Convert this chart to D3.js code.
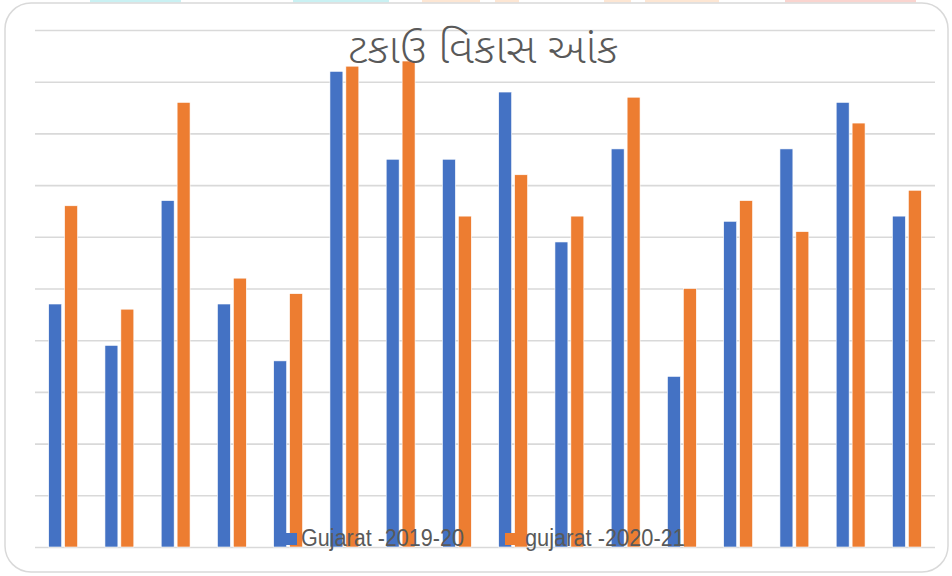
<!DOCTYPE html>
<html>
<head>
<meta charset="utf-8">
<script src="https://cdn.jsdelivr.net/npm/d3@7"></script>
<style>
  html, body { margin: 0; padding: 0; background: #ffffff; }
  svg { display: block; }
</style>
</head>
<body>
<script>
// ---- data ----
const categories = ["1","2","3","4","5","6","7","8","9","10","11","12","13","14","15","16"];
const seriesNames = ["Gujarat -2019-20", "gujarat -2020-21"];
const values2019 = [47, 39, 67, 47, 36, 92, 75, 75, 88, 59, 77, 33, 63, 77, 86, 64];
const values2020 = [66, 46, 86, 52, 49, 93, 94, 64, 72, 64, 87, 50, 67, 61, 82, 69];
const gridTicks = [0, 10, 20, 30, 40, 50, 60, 70, 80, 90, 100];
const title = "ટકાઉ વિકાસ આંક";
const colors = ["#4472C4", "#ED7D31"];

const W = 952, H = 576;
const svg = d3.select("body").append("svg").attr("width", W).attr("height", H);

// faint strips at top edge (page remnants above the chart)
const strips = [
  [90, 181, "#c9f1f3"], [293, 389, "#c9f1f3"], [422, 480, "#fde6d3"], [495, 519, "#fde6d3"],
  [604, 631, "#fde6d3"], [645, 719, "#fde6d3"], [785, 916, "#fad4cf"]
];
svg.append("g").selectAll("rect").data(strips).join("rect")
  .attr("x", d => d[0]).attr("y", 0).attr("width", d => d[1] - d[0]).attr("height", 2.5)
  .attr("fill", d => d[2]);

// outer frame
svg.append("rect")
  .attr("x", 5).attr("y", 3).attr("width", 943).attr("height", 569)
  .attr("rx", 26).attr("ry", 26)
  .attr("fill", "#ffffff").attr("stroke", "#d9d9d9").attr("stroke-width", 1.5);

const plot = { left: 35, right: 935, top: 30, bottom: 547 };

const x0 = d3.scaleBand().domain(categories).range([plot.left, plot.right]).paddingInner(0).paddingOuter(0);
const x1 = d3.scaleBand().domain(seriesNames).range([0, x0.bandwidth()]).paddingInner(0.1875).paddingOuter(0.86);
const y = d3.scaleLinear().domain([0, 100]).range([plot.bottom, plot.top]);

// gridlines
const yAxis = d3.axisLeft(y).tickValues(gridTicks).tickSize(-(plot.right - plot.left)).tickFormat("");
const g = svg.append("g").attr("transform", `translate(${plot.left},0)`).call(yAxis);
g.select(".domain").remove();
g.selectAll(".tick line").attr("stroke", "#d9d9d9").attr("stroke-width", 1.6);

// bars
const data = categories.map((c, i) => ({ c, vals: [values2019[i], values2020[i]] }));
const groups = svg.append("g").selectAll("g").data(data).join("g")
  .attr("transform", d => `translate(${x0(d.c)},0)`);
groups.selectAll("rect")
  .data(d => d.vals.map((v, k) => ({ s: seriesNames[k], v, k })))
  .join("rect")
  .attr("x", d => x1(d.s))
  .attr("width", x1.bandwidth())
  .attr("y", d => y(d.v))
  .attr("height", d => y(0) - y(d.v))
  .attr("fill", d => colors[d.k])
  .attr("stroke", "#ffffff").attr("stroke-width", 0.6);

// title
svg.append("text")
  .attr("x", 483).attr("y", 63)
  .attr("text-anchor", "middle")
  .attr("font-family", "'Noto Sans Gujarati', 'Noto Sans', sans-serif")
  .attr("font-size", 42)
  .attr("font-weight", 300)
  .attr("fill", "#595959")
  .attr("textLength", 270).attr("lengthAdjust", "spacingAndGlyphs")
  .text(title);

// legend
const legendItems = [
  { name: seriesNames[0], color: colors[0], sx: 285, tx: 301, tw: 163 },
  { name: seriesNames[1], color: colors[1], sx: 505, tx: 525, tw: 160 }
];
const lg = svg.append("g");
legendItems.forEach(it => {
  lg.append("rect").attr("x", it.sx).attr("y", 533).attr("width", 12).attr("height", 12).attr("fill", it.color);
  lg.append("text")
    .attr("x", it.tx).attr("y", 546)
    .attr("font-family", "'Liberation Sans Narrow', 'Liberation Sans', sans-serif")
    .attr("font-size", 23)
    .attr("fill", "#595959")
    .attr("textLength", it.tw).attr("lengthAdjust", "spacingAndGlyphs")
    .text(it.name);
});
</script>
</body>
</html>
